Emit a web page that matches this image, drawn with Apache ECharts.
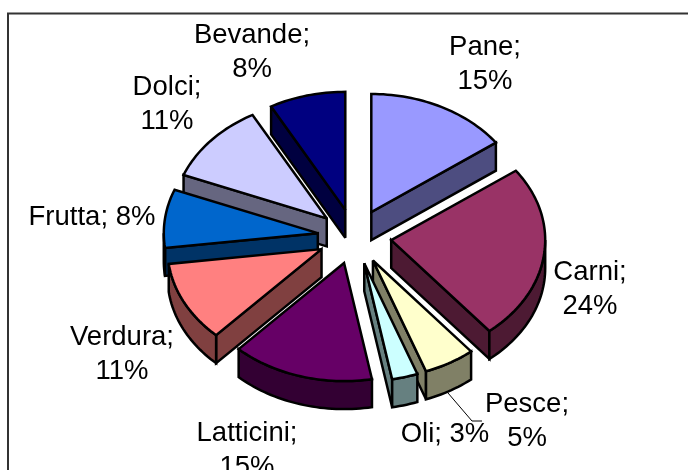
<!DOCTYPE html>
<html>
<head>
<meta charset="utf-8">
<style>html,body{margin:0;padding:0;background:#fff}#c{width:688px;height:470px}</style>
<script src="https://cdn.jsdelivr.net/npm/echarts@6/dist/echarts.min.js"></script>
</head>
<body>
<div id="c"></div>
<script>
const categories = ['Pane','Carni','Pesce','Oli','Latticini','Verdura','Frutta','Dolci','Bevande'];
const shares = [15,24,5.4,2.7,14.9,11,8,11,8];
const topColors = ['#9999FF','#993366','#FFFFCC','#CCFFFF','#660066','#FF8080','#0066CC','#CCCCFF','#000080'];
const sideColors = ['#4D4D80','#4D1A33','#808066','#668080','#330033','#804040','#003366','#666680','#000040'];
const oneLineLabels = ['Oli','Frutta'];
const labelCentres = {
  Pane:[485,63], Carni:[590,288], Pesce:[527,420], Oli:[445,433], Latticini:[247,449],
  Verdura:[122,353], Frutta:[92,216], Dolci:[167,103], Bevande:[252,51]
};

const CX = 354.5, CY = 236.6, RX = 154, RY = 118, EX = 37, EY = 27.6, DEPTH = 28, LW = 2.5;
const total = shares.reduce((a, b) => a + b, 0);
const DEG = Math.PI / 180;
const starts = [];
shares.reduce((acc, v, i) => { starts[i] = acc; return acc + v; }, 0);

function arcPoints(ax, ay, t1, t2) {
  const n = Math.max(2, Math.ceil((t2 - t1) / 1.5));
  const pts = [];
  for (let k = 0; k <= n; k++) {
    const t = (t1 + (t2 - t1) * k / n) * DEG;
    pts.push([ax + RX * Math.sin(t), ay - RY * Math.cos(t)]);
  }
  return pts;
}
function poly(points, fill, z2) {
  return { type: 'polygon', z2, silent: true, shape: { points },
    style: { fill, stroke: '#000', lineWidth: LW, lineJoin: 'miter', miterLimit: 3 } };
}
function renderItem(params, api) {
  const i = params.dataIndex;
  const t1 = starts[i] / total * 360;
  const t2 = t1 + api.value(0) / total * 360;
  const mid = (t1 + t2) / 2 * DEG;
  const ax = CX + EX * Math.sin(mid), ay = CY - EY * Math.cos(mid);
  const arc = arcPoints(ax, ay, t1, t2);
  const apex = [ax, ay];
  const interior = [ax + RX * 0.5 * Math.sin(mid), ay - RY * 0.5 * Math.cos(mid)];
  const base = Math.round((1 - Math.cos(mid)) * 50) * 10;
  const side = sideColors[i];
  const children = [];
  [arc[0], arc[arc.length - 1]].forEach((p) => {
    const ex = p[0] - ax, ey = p[1] - ay;
    const cD = ex * DEPTH;
    const cM = ex * (interior[1] - ay) - ey * (interior[0] - ax);
    if (cD * cM < -1e-6) {
      children.push(poly([apex, p, [p[0], p[1] + DEPTH], [ax, ay + DEPTH]], side, base + 1));
    }
  });
  const w1 = Math.max(t1, 90), w2 = Math.min(t2, 270);
  if (w2 > w1) {
    const upper = arcPoints(ax, ay, w1, w2);
    const lower = upper.map((p) => [p[0], p[1] + DEPTH]).reverse();
    children.push(poly(upper.concat(lower), side, base + 2));
  }
  children.push(poly([apex].concat(arc), topColors[i], base + 3));
  return { type: 'group', children };
}
function labelText(i) {
  const name = categories[i], pct = Math.round(shares[i]) + '%';
  return name + ';' + (oneLineLabels.includes(name) ? ' ' : '\n') + pct;
}
const chart = echarts.init(document.getElementById('c'), null, { renderer: 'canvas', width: 688, height: 470 });
chart.setOption({
  animation: false,
  backgroundColor: '#fff',
  tooltip: { show: false },
  graphic: [
    { type: 'rect', z: 0, silent: true, shape: { x: 8, y: 13.5, width: 720, height: 500 },
      style: { fill: 'none', stroke: '#333', lineWidth: 2 } },
    { type: 'polyline', z: 5, silent: true, shape: { points: [[448, 393], [472, 421], [482, 421]] },
      style: { fill: 'none', stroke: '#000', lineWidth: 1 } }
  ].concat(categories.map((name, i) => ({
    type: 'text', z: 6, silent: true,
    x: labelCentres[name][0], y: labelCentres[name][1] + 1.5,
    style: { text: labelText(i), font: '27.5px "Liberation Sans", Arial, sans-serif', lineHeight: 34,
      fill: '#000', align: 'center', verticalAlign: 'middle' }
  }))),
  series: [{
    type: 'custom',
    coordinateSystem: 'none',
    silent: true,
    renderItem,
    data: shares.map((v) => [v])
  }]
});
</script>
</body>
</html>
